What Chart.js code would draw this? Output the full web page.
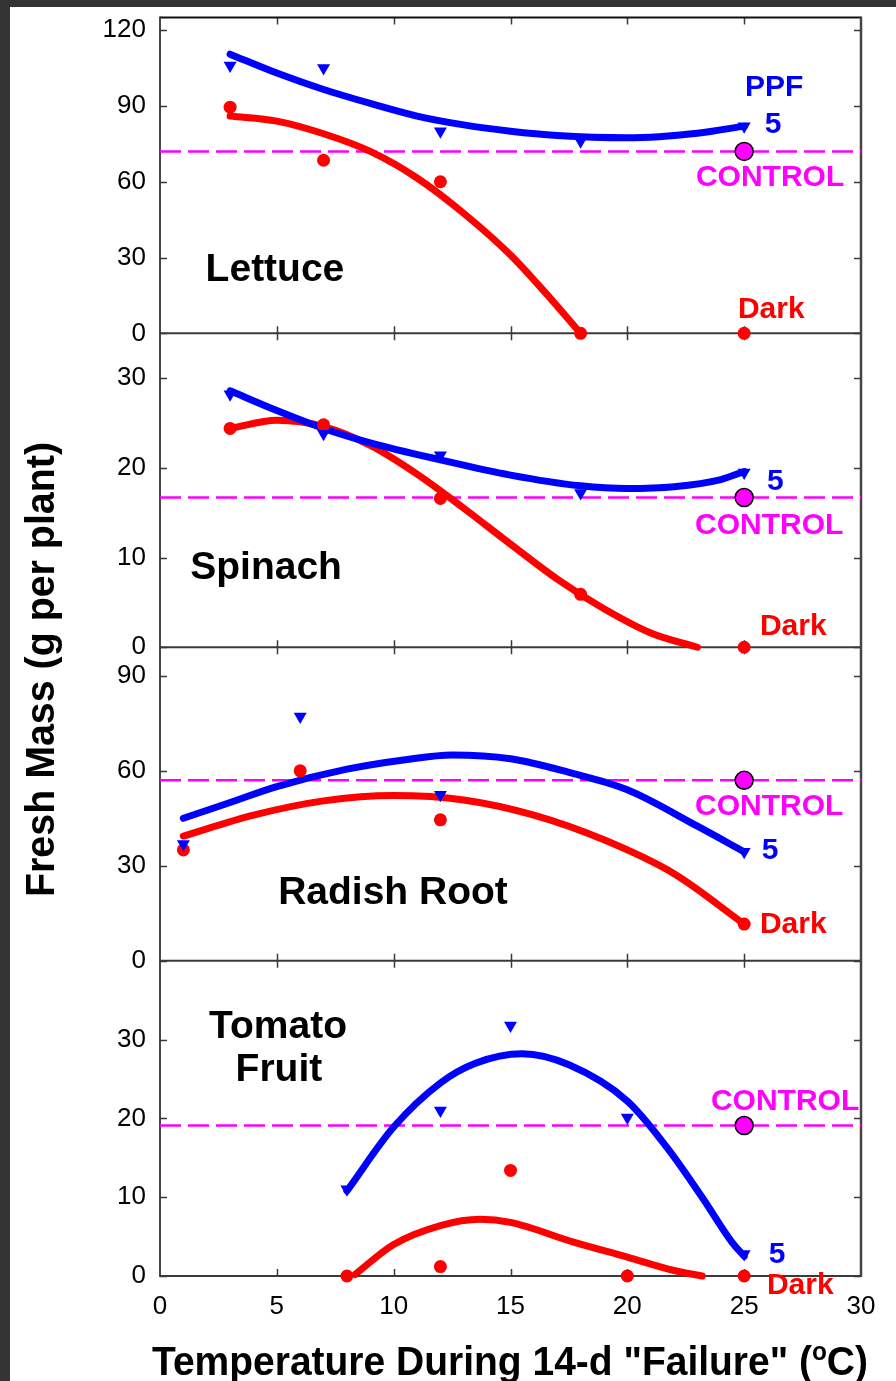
<!DOCTYPE html>
<html>
<head>
<meta charset="utf-8">
<script src="https://cdn.jsdelivr.net/npm/chart.js@4/dist/chart.umd.min.js"></script>
<style>
  html, body { margin: 0; padding: 0; background: #333; }
  #wrap { position: absolute; left: 10px; top: 7px; width: 886px; height: 1374px; background: #fff; }
  canvas { display: block; }
</style>
</head>
<body>
<div id="wrap"><canvas id="c" width="886" height="1374"></canvas></div>
<script>
// ---- Lettuce ----
const lettuceTemps = [3, 7, 12, 18, 25];
const lettucePPF = [106, 105, 80, 76, 82];
const lettuceDark = [89.5, 68.5, 60, 0, 0];
const lettuceControl = 72;
const lettucePPFFitX = [3, 5, 7, 9, 11, 13, 15, 17, 20, 23, 25];
const lettucePPFFit = [110.5, 103, 96.5, 91, 86, 82.5, 80, 78.3, 77.4, 79.2, 82];
const lettuceDarkFitX = [3, 5, 7, 9, 11, 13, 15, 16.5, 18];
const lettuceDarkFit = [86, 84, 79, 72, 61.5, 47.5, 31, 16, 0];
const lettuceTicks = [0, 30, 60, 90, 120];

// ---- Spinach ----
const spinachTemps = [3, 7, 12, 18, 25];
const spinachPPF = [28.2, 23.8, 21.4, 17.2, 19.5];
const spinachDark = [24.4, 24.8, 16.6, 5.9, 0];
const spinachControl = 16.7;
const spinachPPFFitX = [3, 5, 7, 9, 12, 15, 18, 20, 22, 24, 25];
const spinachPPFFit = [28.6, 26.4, 24.4, 22.8, 20.9, 19.2, 18.0, 17.7, 17.9, 18.7, 19.6];
const spinachDarkFitX = [3, 5, 7, 9, 11, 13, 15, 17, 19, 21, 23];
const spinachDarkFit = [24.4, 25.3, 24.6, 22.5, 19.3, 15.5, 11.5, 7.6, 4.3, 1.6, 0];
const spinachTicks = [0, 10, 20, 30];

// ---- Radish root ----
const radishTemps = [1, 6, 12, 25];
const radishPPF = [36.9, 77.1, 52.4, 34.4];
const radishDark = [35, 60, 44.5, 11.6];
const radishControl = 57;
const radishPPFFitX = [1, 3, 5, 8, 10.5, 12.5, 15, 17.5, 20, 23, 25];
const radishPPFFit = [45, 50, 55, 60.5, 63.5, 65, 63.8, 59.5, 54, 42.5, 34.4];
const radishDarkFitX = [1, 4, 7, 10, 13, 16, 19, 22, 25];
const radishDarkFit = [39.4, 46, 50.5, 52.2, 50.8, 46, 38.2, 27.5, 11.6];
const radishTicks = [0, 30, 60, 90];

// ---- Tomato fruit ----
const tomatoTemps = [8, 12, 15, 20, 25];
const tomatoPPF = [11, 21, 31.8, 20.1, 2.8];
const tomatoDark = [0, 1.2, 13.4, 0, 0];
const tomatoControl = 19.1;
const tomatoPPFFitX = [8, 10, 12, 13.5, 15.5, 17.5, 20, 21.7, 23.2, 24.5, 25];
const tomatoPPFFit = [10.8, 18.9, 24.5, 27.0, 28.2, 26.8, 22.2, 16.3, 10, 4.2, 2.5];
const tomatoDarkFitX = [8.35, 10, 12, 13.7, 15, 17.7, 20, 22, 23.2];
const tomatoDarkFit = [0.2, 4.0, 6.4, 7.2, 6.8, 4.3, 2.4, 0.7, 0];
const tomatoTicks = [0, 10, 20, 30];

const xTickStep = 5;
const controlTemp = 25;

const BLUE = '#0000ff', RED = '#ff0000', MAGENTA = '#ff00ff';
const FONT = '"Liberation Sans", Arial, Helvetica, sans-serif';

const pts = (xs, ys) => xs.map((x, i) => ({ x: x, y: ys[i] }));

// panels listed top to bottom
const panels = [
  { id: 'yLettuce', max: 125, weight: 316, ticks: lettuceTicks, temps: lettuceTemps, ppf: lettucePPF, dark: lettuceDark,
    control: lettuceControl, ppfFitX: lettucePPFFitX, ppfFit: lettucePPFFit, darkFitX: lettuceDarkFitX, darkFit: lettuceDarkFit },
  { id: 'ySpinach', max: 35, weight: 314, ticks: spinachTicks, temps: spinachTemps, ppf: spinachPPF, dark: spinachDark,
    control: spinachControl, ppfFitX: spinachPPFFitX, ppfFit: spinachPPFFit, darkFitX: spinachDarkFitX, darkFit: spinachDarkFit },
  { id: 'yRadish', max: 99, weight: 313.7, ticks: radishTicks, temps: radishTemps, ppf: radishPPF, dark: radishDark,
    control: radishControl, ppfFitX: radishPPFFitX, ppfFit: radishPPFFit, darkFitX: radishDarkFitX, darkFit: radishDarkFit },
  { id: 'yTomato', max: 40, weight: 315.3, ticks: tomatoTicks, temps: tomatoTemps, ppf: tomatoPPF, dark: tomatoDark,
    control: tomatoControl, ppfFitX: tomatoPPFFitX, ppfFit: tomatoPPFFit, darkFitX: tomatoDarkFitX, darkFit: tomatoDarkFit }
];

const datasets = [];
const scales = {
  x: {
    type: 'linear', position: 'bottom', min: 0, max: 30,
    ticks: { stepSize: xTickStep, font: { size: 26, family: FONT }, color: '#000', padding: 15 },
    grid: { display: false, drawTicks: false }, border: { display: false },
    afterFit: s => { s.height = 105; s.paddingLeft = 0; s.paddingRight = 0; }
  }
};

// stacked left axes are placed bottom-up, so register them in reverse
panels.slice().reverse().forEach(p => {
  scales[p.id] = {
    type: 'linear', position: 'left', stack: 'panels', stackWeight: p.weight,
    min: 0, max: p.max,
    afterBuildTicks: s => { s.ticks = p.ticks.map(v => ({ value: v })); },
    afterFit: s => { s.width = 150; s.paddingTop = 0; s.paddingBottom = 0; },
    grid: { display: false, drawTicks: false }, border: { display: false },
    ticks: { font: { size: 26, family: FONT }, color: '#000', padding: 14 }
  };
});

panels.forEach(p => {
  // control level, dashed across the panel
  datasets.push({
    yAxisID: p.id, data: [{ x: 0, y: p.control }, { x: 30, y: p.control }], showLine: true,
    borderColor: MAGENTA, borderWidth: 2.5, borderDash: [21, 7], pointRadius: 0, order: 4
  });
  // fitted curves
  datasets.push({
    yAxisID: p.id, data: pts(p.darkFitX, p.darkFit), showLine: true, cubicInterpolationMode: 'monotone',
    borderColor: RED, borderWidth: 7, borderCapStyle: 'round', pointRadius: 0, order: 3, clip: false
  });
  datasets.push({
    yAxisID: p.id, data: pts(p.ppfFitX, p.ppfFit), showLine: true, cubicInterpolationMode: 'monotone',
    borderColor: BLUE, borderWidth: 7, borderCapStyle: 'round', pointRadius: 0, order: 2, clip: false
  });
  // measured points
  datasets.push({
    yAxisID: p.id, data: pts(p.temps, p.ppf), showLine: false, pointStyle: 'triangle', rotation: 180,
    pointRadius: 7.5, backgroundColor: BLUE, borderWidth: 0, order: 1, clip: false
  });
  datasets.push({
    yAxisID: p.id, data: pts(p.temps, p.dark), showLine: false, pointStyle: 'circle',
    pointRadius: 6.5, backgroundColor: RED, borderWidth: 0, order: 1, clip: false
  });
  datasets.push({
    yAxisID: p.id, data: [{ x: controlTemp, y: p.control }], showLine: false, pointStyle: 'circle',
    pointRadius: 9, backgroundColor: MAGENTA, borderColor: '#000', borderWidth: 1.5, order: 0, clip: false
  });
});

// frame, divider lines and inward tick marks
const framePlugin = {
  id: 'frame',
  beforeDatasetsDraw(chart) {
    const ctx = chart.ctx, a = chart.chartArea, xs = chart.scales.x;
    const tl = 7;
    ctx.save();
    ctx.lineCap = 'butt';
    ctx.strokeStyle = '#3a3a3a';
    ctx.lineWidth = 1.5;
    panels.forEach(p => {
      const ys = chart.scales[p.id];
      const top = ys.top, bot = ys.bottom;
      p.ticks.forEach(v => {
        const y = Math.round(ys.getPixelForValue(v)) + 0.5;
        ctx.beginPath();
        ctx.moveTo(a.left, y); ctx.lineTo(a.left + tl, y);
        ctx.moveTo(a.right, y); ctx.lineTo(a.right - tl, y);
        ctx.stroke();
      });
      for (let v = xTickStep; v < 30; v += xTickStep) {
        const x = Math.round(xs.getPixelForValue(v)) + 0.5;
        ctx.beginPath();
        ctx.moveTo(x, top); ctx.lineTo(x, top + tl);
        ctx.moveTo(x, bot); ctx.lineTo(x, bot - tl);
        ctx.stroke();
      }
    });
    ctx.lineWidth = 2;
    ctx.strokeStyle = '#111';
    ctx.beginPath(); ctx.moveTo(a.left, a.top); ctx.lineTo(a.right, a.top); ctx.stroke();
    ctx.strokeStyle = '#3a3a3a';
    panels.forEach(p => {
      const y = chart.scales[p.id].bottom;
      ctx.beginPath(); ctx.moveTo(a.left, y); ctx.lineTo(a.right, y); ctx.stroke();
    });
    ctx.lineWidth = 1.8;
    ctx.strokeStyle = '#333';
    ctx.beginPath(); ctx.moveTo(a.left, a.top - 1); ctx.lineTo(a.left, a.bottom + 1); ctx.stroke();
    ctx.lineWidth = 2.5;
    ctx.strokeStyle = '#444';
    ctx.beginPath(); ctx.moveTo(a.right, a.top - 1); ctx.lineTo(a.right, a.bottom + 1); ctx.stroke();
    ctx.restore();
  }
};

// panel names, series labels and axis titles
const labelPlugin = {
  id: 'labels',
  afterDatasetsDraw(chart) {
    const ctx = chart.ctx, xs = chart.scales.x;
    const put = (axis, text, xv, yv, size, color) => {
      const ys = chart.scales[axis];
      ctx.save();
      ctx.font = 'bold ' + size + 'px ' + FONT;
      ctx.fillStyle = color;
      ctx.textAlign = 'center';
      ctx.textBaseline = 'alphabetic';
      ctx.fillText(text, xs.getPixelForValue(xv), ys.getPixelForValue(yv));
      ctx.restore();
    };
    put('yLettuce', 'Lettuce', 4.92, 20.9, 39, '#000');
    put('ySpinach', 'Spinach', 4.54, 7.56, 39, '#000');
    put('yRadish', 'Radish Root', 9.97, 17.9, 39, '#000');
    put('yTomato', 'Tomato', 5.05, 30.25, 39, '#000');
    put('yTomato', 'Fruit', 5.09, 24.8, 39, '#000');
    put('yLettuce', 'PPF', 26.28, 94, 30, BLUE);
    put('yLettuce', '5', 26.24, 79.4, 30, BLUE);
    put('yLettuce', 'CONTROL', 26.11, 58.4, 30, MAGENTA);
    put('yLettuce', 'Dark', 26.16, 6, 30, RED);
    put('ySpinach', '5', 26.33, 17.56, 30, BLUE);
    put('ySpinach', 'CONTROL', 26.07, 12.67, 30, MAGENTA);
    put('ySpinach', 'Dark', 27.1, 1.33, 30, RED);
    put('yRadish', 'CONTROL', 26.07, 46.1, 30, MAGENTA);
    put('yRadish', '5', 26.11, 32.2, 30, BLUE);
    put('yRadish', 'Dark', 27.1, 8.8, 30, RED);
    put('yTomato', 'CONTROL', 26.75, 21.1, 30, MAGENTA);
    put('yTomato', '5', 26.41, 1.65, 30, BLUE);
    put('yTomato', 'Dark', 27.4, -2.3, 30, RED);

    // y-axis title
    ctx.save();
    ctx.font = 'bold 41px ' + FONT;
    ctx.fillStyle = '#000';
    ctx.textAlign = 'center';
    ctx.textBaseline = 'alphabetic';
    const yt = 'Fresh Mass (g per plant)';
    ctx.translate(43.5, 662.5);
    ctx.rotate(-Math.PI / 2);
    ctx.scale(455 / ctx.measureText(yt).width, 1);
    ctx.fillText(yt, 0, 0);
    ctx.restore();

    // x-axis title with superscript "o"
    ctx.save();
    ctx.fillStyle = '#000';
    ctx.textBaseline = 'alphabetic';
    ctx.textAlign = 'left';
    const p1 = 'Temperature During 14-d "Failure" (', p2 = 'o', p3 = 'C)';
    const big = 'bold 40px ' + FONT, small = 'bold 25px ' + FONT;
    ctx.font = big; const w1 = ctx.measureText(p1).width, w3 = ctx.measureText(p3).width;
    ctx.font = small; const w2 = ctx.measureText(p2).width;
    const total = w1 + w2 + w3, target = 716;
    ctx.translate(500 - target / 2, 1368);
    ctx.scale(target / total, 1);
    ctx.font = big; ctx.fillText(p1, 0, 0);
    ctx.font = small; ctx.fillText(p2, w1, -15);
    ctx.font = big; ctx.fillText(p3, w1 + w2, 0);
    ctx.restore();
  }
};

Chart.defaults.font.family = FONT;

new Chart(document.getElementById('c'), {
  type: 'scatter',
  data: { datasets: datasets },
  options: {
    responsive: false,
    animation: false,
    devicePixelRatio: 1,
    layout: { padding: { left: 0, right: 35, top: 10, bottom: 0 } },
    plugins: { legend: { display: false }, tooltip: { enabled: false } },
    scales: scales
  },
  plugins: [framePlugin, labelPlugin]
});
</script>
</body>
</html>
